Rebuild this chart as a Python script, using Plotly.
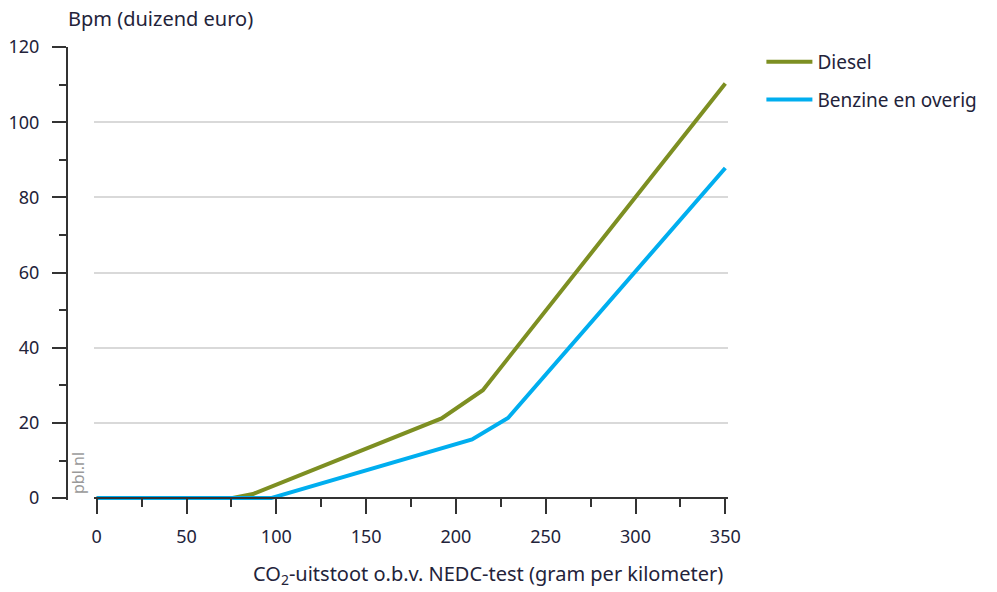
import plotly.graph_objects as go

diesel_x = [0, 75, 87, 192, 215, 350]
diesel_y = [0, 0, 1.1, 21.2, 28.7, 110.3]
benzine_x = [0, 97, 209, 229, 350]
benzine_y = [0, 0, 15.6, 21.3, 87.8]
series_names = ["Diesel", "Benzine en overig"]
colors = ["#7D8F22", "#00AEEF"]

x_ticks = [0, 50, 100, 150, 200, 250, 300, 350]
y_ticks = [0, 20, 40, 60, 80, 100, 120]

FONT = "Noto Sans"
TXT = "#23233a"

W, H = 997, 592
ml, mr, mt, mb = 60, 269, 47, 92
plot_w = W - ml - mr
plot_h = H - mt - mb
x_start = (94 - ml) / plot_w
y_pos = (67 - ml) / plot_w

fig = go.Figure()
for name, xs, ys, c in [(series_names[0], diesel_x, diesel_y, colors[0]),
                        (series_names[1], benzine_x, benzine_y, colors[1])]:
    fig.add_trace(go.Scatter(x=xs, y=ys, mode="lines", name=name,
                             line=dict(color=c, width=4), legendgroup=name))

fig.update_layout(
    template="none",
    width=W, height=H,
    margin=dict(l=ml, r=mr, t=mt, b=mb, autoexpand=False),
    paper_bgcolor="white", plot_bgcolor="white",
    font=dict(family=FONT, size=18, color=TXT),
    showlegend=True,
    legend=dict(x=1.05, y=1.0 + 4 / plot_h, xanchor="left", yanchor="top",
                font=dict(size=19, color=TXT), tracegroupgap=10,
                traceorder="grouped", bgcolor="rgba(0,0,0,0)", itemwidth=46),
    xaxis=dict(domain=[x_start, 1], range=[-1.5, 351.5], tickvals=x_ticks,
               automargin=False,
               showgrid=False, zeroline=False, showline=True, linecolor="#333",
               linewidth=2, ticks="outside", ticklen=15, tickwidth=2, tickcolor="#333",
               minor=dict(dtick=50, tick0=25, ticks="outside", ticklen=8, tickwidth=2,
                          tickcolor="#333", showgrid=False),
               anchor="free", position=2 / plot_h, ticklabelstandoff=7,
               tickfont=dict(size=18)),
    yaxis=dict(range=[-0.5, 120], tickvals=y_ticks, anchor="free", position=y_pos,
               automargin=False,
               showgrid=True, gridcolor="#d9d9d9", gridwidth=1.5, zeroline=False,
               showline=True, linecolor="#333", linewidth=2,
               ticks="outside", ticklen=14, tickwidth=2, tickcolor="#333",
               minor=dict(dtick=20, tick0=10, ticks="outside", ticklen=7, tickwidth=2,
                          tickcolor="#333", showgrid=False),
               ticklabelstandoff=9, tickfont=dict(size=18)),
)

fig.add_annotation(text="Bpm (duizend euro)", xref="paper", yref="paper",
                   x=(66 - ml) / plot_w, y=1 + (47 - 19) / plot_h,
                   xanchor="left", yanchor="middle", showarrow=False,
                   font=dict(size=20, color=TXT))
fig.add_annotation(text="CO<sub>2</sub>-uitstoot o.b.v. NEDC-test (gram per kilometer)",
                   xref="paper", yref="paper", x=1 - 3 / plot_w, y=-(574 - 500) / plot_h,
                   xanchor="right", yanchor="middle", showarrow=False,
                   font=dict(size=20, color=TXT))
fig.add_annotation(text="pbl.nl", xref="paper", yref="paper",
                   x=(78 - ml) / plot_w, y=(500 - 496) / plot_h, textangle=-90,
                   xanchor="center", yanchor="bottom", showarrow=False,
                   font=dict(size=16, color="#9a9a9a"))

fig.write_html("out.html", config={"displayModeBar": False},
               post_script="document.body.style.margin='0';document.body.style.padding='0';")
